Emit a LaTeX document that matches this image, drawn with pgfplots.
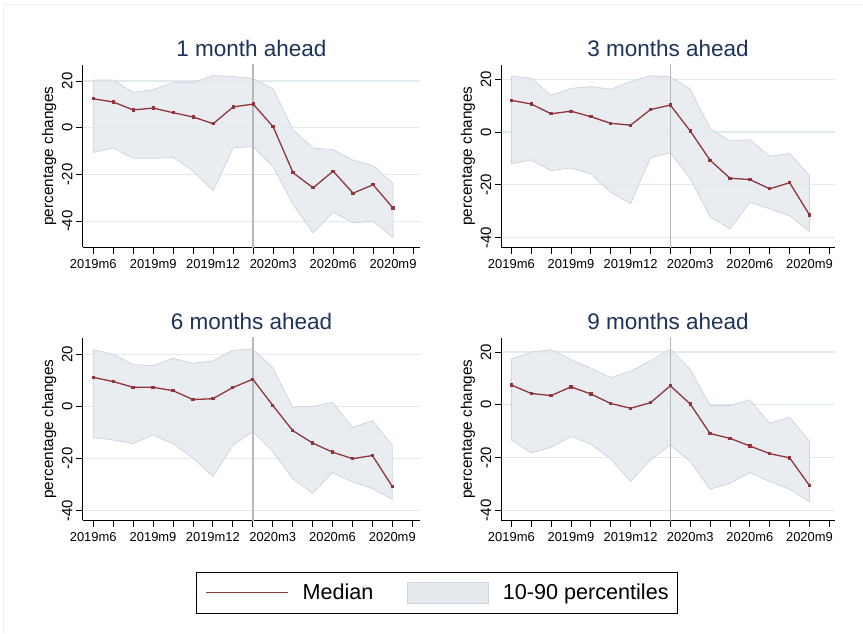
\documentclass[border=0pt]{standalone}
\usepackage{fontspec}
\setmainfont{Liberation Sans}
\usepackage{pgfplots}
\pgfplotsset{compat=1.18}
\usepackage{pgfplotstable}
\usepgfplotslibrary{fillbetween}

\definecolor{med}{RGB}{144,53,59}
\definecolor{bandfill}{RGB}{229,234,239}
\definecolor{bandedge}{RGB}{205,214,224}
\definecolor{gridc}{RGB}{225,235,238}
\definecolor{vlinec}{RGB}{185,185,185}
\definecolor{titlec}{RGB}{30,50,90}
\definecolor{framec}{RGB}{236,241,241}

\pgfplotstableread{
t med lo hi
0 12.4 -10.6 20.4
1 11.0 -8.6 20.4
2 7.6 -13.1 15.1
3 8.4 -13.1 16.3
4 6.4 -12.7 19.3
5 4.6 -18.6 19.3
6 1.7 -27.0 22.3
7 8.9 -8.6 21.9
8 10.1 -8.1 21.0
9 0.4 -16.7 16.6
10 -19.3 -32.9 -1.0
11 -25.7 -45.0 -8.7
12 -18.6 -36.1 -9.4
13 -28.0 -40.7 -13.9
14 -24.4 -40.0 -16.3
15 -34.4 -47.0 -23.9
}\tA
\pgfplotstableread{
t med lo hi
0 12.0 -12.0 21.1
1 10.6 -10.6 20.4
2 6.9 -14.6 13.9
3 7.9 -13.6 16.5
4 5.8 -15.9 17.2
5 3.3 -22.8 16.2
6 2.6 -27.1 19.1
7 8.5 -9.7 21.3
8 10.2 -7.8 20.9
9 0.4 -17.7 16.3
10 -10.7 -32.1 1.3
11 -17.5 -36.7 -3.4
12 -18.0 -26.6 -2.9
13 -21.5 -29.1 -9.2
14 -19.2 -31.7 -8.1
15 -31.4 -37.6 -16.5
}\tB
\pgfplotstableread{
t med lo hi
0 11.1 -12.0 21.7
1 9.5 -12.9 20.0
2 7.3 -14.3 16.0
3 7.3 -11.0 15.6
4 6.0 -14.4 18.4
5 2.6 -19.8 16.5
6 2.9 -26.9 17.4
7 7.2 -15.0 21.5
8 10.4 -9.7 22.0
9 0.4 -17.4 14.8
10 -9.3 -27.7 -0.3
11 -14.1 -33.4 -0.1
12 -17.6 -25.4 1.5
13 -20.1 -29.0 -8.1
14 -18.9 -31.6 -5.5
15 -30.8 -35.7 -15.0
}\tC
\pgfplotstableread{
t med lo hi
0 7.5 -13.3 17.3
1 4.3 -18.2 20.0
2 3.5 -16.1 20.9
3 6.8 -12.0 17.1
4 4.1 -14.9 13.9
5 0.5 -20.5 10.3
6 -1.3 -29.0 12.7
7 0.8 -20.9 16.7
8 7.2 -15.2 21.1
9 0.3 -21.5 13.5
10 -10.9 -32.0 -0.3
11 -12.7 -29.7 -0.3
12 -15.6 -25.7 1.9
13 -18.5 -29.1 -7.0
14 -20.1 -32.0 -4.7
15 -30.6 -36.7 -13.8
}\tD

\pgfplotsset{
  panel/.style={
    scale only axis,
    anchor=south west,
    axis lines=left,
    axis line style={-, line width=0.9bp, black},
    xtick={0,3,6,9,12,15},
    xticklabels={2019m6,2019m9,2019m12,2020m3,2020m6,2020m9},
    minor xtick={1,2,4,5,7,8,10,11,13,14,16},
    ytick={-40,-20,0,20},
    yticklabels={-40,-20,0,20},
    tick align=outside,
    major tick length=6.5bp,
    minor tick length=6.5bp,
    every tick/.style={black, line width=0.8bp},
    ymajorgrids,
    grid style={gridc, line width=1.2bp},
    xticklabel style={font=\fontsize{13}{15}\selectfont, inner sep=0pt, anchor=north, yshift=-5.5bp},
    yticklabel style={font=\fontsize{15}{17}\selectfont, xshift=-3.5bp, rotate=90, anchor=south, inner sep=0pt},
    ylabel={percentage changes},
    ylabel style={font=\fontsize{15.4}{18}\selectfont, at={([xshift=-33.5bp]axis description cs:0,0.5)}, anchor=center},
    every axis title/.style={at={(axis description cs:0.5,1)}, anchor=center, yshift=16.5bp,
      font=\fontsize{22.6}{26}\selectfont, color=titlec},
  },
}

\newcommand{\panelplots}[1]{%
  \addplot[draw=none, name path=up, forget plot] table[x=t, y=hi] {#1};
  \addplot[draw=none, name path=lo, forget plot] table[x=t, y=lo] {#1};
  \addplot[fill=bandfill, fill opacity=0.85, draw=bandedge, line width=0.8bp, forget plot] fill between[of=up and lo];
  \addplot[vlinec, line width=1.5bp, forget plot] coordinates {(8,-60) (8,40)};
  \addplot[med, line width=1.3bp, mark=square*, mark size=1.0bp, mark options={solid, fill=med}, forget plot] table[x=t, y=med] {#1};
}

\begin{document}
\begin{tikzpicture}[x=1bp, y=1bp]
\path (0,0) rectangle (863,633);
\draw[framec, line width=1bp] (4,0) -- (4,628) -- (863,628);

\begin{axis}[panel, at={(82.7bp,385.7bp)}, width=337.8bp, height=182.3bp,
  xmin=-0.53, xmax=16.36, ymin=-51.1, ymax=26.85, title={1 month ahead}]
\panelplots{\tA}
\end{axis}

\begin{axis}[panel, at={(501.7bp,385.7bp)}, width=333.3bp, height=182.3bp,
  xmin=-0.5, xmax=16.26, ymin=-43.6, ymax=25.4, title={3 months ahead}]
\panelplots{\tB}
\end{axis}

\begin{axis}[panel, at={(82.7bp,112.3bp)}, width=337.8bp, height=182.7bp,
  xmin=-0.53, xmax=16.4, ymin=-43.8, ymax=26.3, title={6 months ahead},
  legend columns=2,
  legend style={at={(axis description cs:1.0503,-0.3957)}, anchor=center,
    draw=black, line width=0.8bp, inner xsep=9bp, inner ysep=9.5bp,
    font=\fontsize{21.7}{24}\selectfont,
    nodes={inner sep=0pt, anchor=base west},
    /tikz/every odd column/.append style={column sep=13.5bp},
    /tikz/every even column/.append style={column sep=34bp}},
  ]
\addlegendimage{legend image code/.code={\draw[med, line width=1.3bp] (0bp,7.7bp) -- (82bp,7.7bp);}}
\addlegendentry{Median}
\addlegendimage{legend image code/.code={\draw[fill=bandfill, draw=bandedge, line width=1bp] (0bp,-3.3bp) rectangle (81bp,17.7bp);}}
\addlegendentry{10-90 percentiles\hspace{7bp}}
\panelplots{\tC}
\end{axis}

\begin{axis}[panel, at={(501.7bp,112.3bp)}, width=333.3bp, height=182.7bp,
  xmin=-0.5, xmax=16.26, ymin=-43.8, ymax=25.4, title={9 months ahead}]
\panelplots{\tD}
\end{axis}
\end{tikzpicture}
\end{document}
